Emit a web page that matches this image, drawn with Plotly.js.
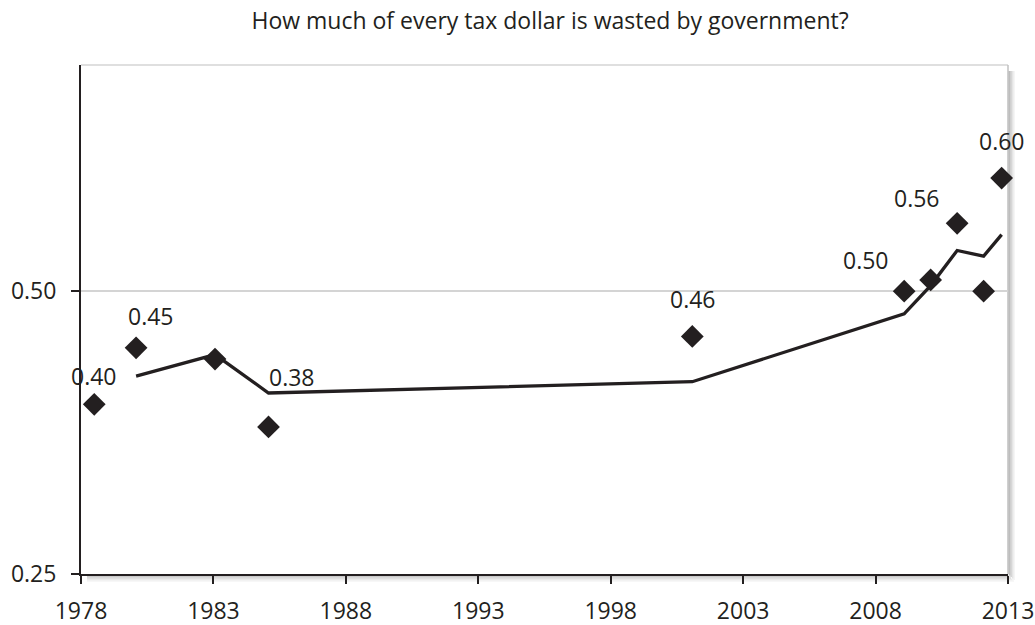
<!DOCTYPE html>
<html>
<head>
<meta charset="utf-8">
<script src="https://cdn.plot.ly/plotly-3.0.1.min.js"></script>
<style>html,body{margin:0;padding:0;background:#fff;}#chart{width:1035px;height:625px;}</style>
</head>
<body>
<div id="chart"></div>
<script>
// Survey points (year, share of tax dollar wasted)
const years = [1978.5, 1980.08, 1983.06, 1985.08, 2001.08, 2009.08, 2010.08, 2011.08, 2012.08, 2012.76];
const wasted = [0.40, 0.45, 0.44, 0.38, 0.46, 0.50, 0.51, 0.56, 0.50, 0.60];
// Trend line (2-period moving average as drawn)
const trendYears = [1980.08, 1983.06, 1985.08, 2001.08, 2009.08, 2010.08, 2011.08, 2012.08, 2012.76];
const trendValues = [0.425, 0.444, 0.41, 0.42, 0.48, 0.505, 0.536, 0.531, 0.55];
// Data labels (blank = no label)
const labelText = ["0.40", "0.45", "", "0.38", "0.46", "0.50", "", "0.56", "", "0.60"];
// Label offsets in px (style)
const labelShift = [[0, 28], [15, 32], [0, 0], [23, 50], [1, 37], [-38, 31], [0, 0], [-40, 25], [0, 0], [0, 37]];
const xTickVals = [1978, 1983, 1988, 1993, 1998, 2003, 2008, 2013];
const yTickVals = [0.25, 0.50];
const yTickText = ["0.25", "0.50"];
const titleText = "How much of every tax dollar is wasted by government?";

const ink = '#231f20';
const font = 'Open Sans, sans-serif';

const traces = [
  {
    x: trendYears, y: trendValues, type: 'scatter', mode: 'lines',
    line: {color: ink, width: 3.3}, cliponaxis: false, hoverinfo: 'skip'
  },
  {
    x: years, y: wasted, type: 'scatter', mode: 'markers',
    marker: {symbol: 'diamond', size: 17.5, color: ink, line: {width: 0}},
    cliponaxis: false
  }
];

const annotations = [];
labelText.forEach((t, i) => {
  if (!t) return;
  annotations.push({
    x: years[i], y: wasted[i], xref: 'x', yref: 'y', text: t, showarrow: false,
    xshift: labelShift[i][0], yshift: labelShift[i][1],
    xanchor: 'center', yanchor: 'middle',
    font: {family: font, size: 23, color: ink}
  });
});

const px = 1 / 927, py = 1 / 509;
const shapes = [
  {type: 'line', layer: 'below', xref: 'paper', yref: 'paper', x0: 0, x1: 1, y0: 1, y1: 1, line: {color: '#d4d4d4', width: 1.5}},
  {type: 'line', layer: 'below', xref: 'paper', yref: 'paper', x0: 1, x1: 1, y0: 0, y1: 1, line: {color: '#c0c0c0', width: 1.5}}
];
// soft shadow right and below
[[1.5, 0.4], [3, 0.28], [4.5, 0.16], [6, 0.08]].forEach(([d, o]) => {
  shapes.push({type: 'line', layer: 'below', xref: 'paper', yref: 'paper', x0: 1 + d * px, x1: 1 + d * px, y0: -d * py, y1: 1 - 6 * py,
    line: {color: 'rgba(90,90,90,' + o + ')', width: 1.5}});
  shapes.push({type: 'line', layer: 'below', xref: 'paper', yref: 'paper', x0: 6 * px, x1: 1 + d * px, y0: -d * py - 0.002, y1: -d * py - 0.002,
    line: {color: 'rgba(90,90,90,' + (o * 0.8) + ')', width: 1.5}});
});

const layout = {
  width: 1035, height: 625,
  margin: {l: 81, r: 27, t: 65, b: 51},
  paper_bgcolor: '#fff', plot_bgcolor: 'rgba(0,0,0,0)',
  showlegend: false,
  font: {family: font, color: ink},
  title: {
    text: titleText, xref: 'paper', x: 0.506, xanchor: 'center',
    yref: 'container', y: 0.966, yanchor: 'middle',
    font: {family: font, size: 23, color: ink}
  },
  xaxis: {
    range: [1978, 2013], tickvals: xTickVals, ticktext: xTickVals.map(String),
    showgrid: false, zeroline: false,
    showline: true, linecolor: ink, linewidth: 2,
    ticks: 'outside', ticklen: 8, tickwidth: 2, tickcolor: ink,
    ticklabelstandoff: 7,
    tickfont: {family: font, size: 23, color: ink}
  },
  yaxis: {
    range: [0.25, 0.70], tickvals: yTickVals, ticktext: yTickText,
    showgrid: true, gridcolor: '#d4d4d4', gridwidth: 1.5, zeroline: false,
    showline: true, linecolor: ink, linewidth: 2,
    ticks: 'outside', ticklen: 8, tickwidth: 2, tickcolor: ink,
    ticklabelstandoff: 10,
    tickfont: {family: font, size: 23, color: ink}
  },
  annotations: annotations,
  shapes: shapes
};

Plotly.newPlot('chart', traces, layout, {displayModeBar: false, staticPlot: true});
</script>
</body>
</html>
